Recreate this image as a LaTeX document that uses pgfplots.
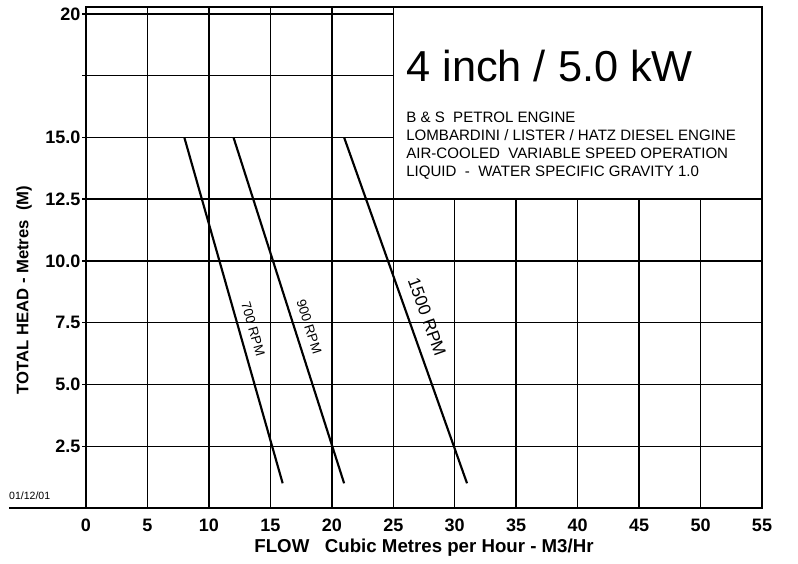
\documentclass[border=0pt]{standalone}
\usepackage{pgfplots}
\pgfplotsset{compat=1.18}
\usepackage{fontspec}
\setmainfont{Liberation Sans}

\begin{document}
\begin{tikzpicture}
% 1px of the reference = 0.75pt
\useasboundingbox (-64.5pt,-41.25pt) rectangle (534pt,381pt);
\begin{axis}[
  at={(0,0)}, anchor=south west,
  scale only axis, width=507pt, height=375.75pt,
  xmin=0, xmax=55, ymin=0, ymax=20.28,
  clip=false,
  xtick={0,5,10,15,20,25,30,35,40,45,50,55},
  xticklabels={0,5,10,15,20,25,30,35,40,45,50,55},
  ytick={2.5,5,7.5,10,12.5,15,17.5,20},
  yticklabels={2.5,5.0,7.5,10.0,12.5,15.0,,20},
  grid=major,
  major grid style={black, line width=1.1pt},
  axis line style={black, line width=1.1pt},
  tick pos=left,
  tick align=outside,
  major tick length=3pt,
  xtick style={draw=none},
  ytick style={black, line width=1.1pt},
  tick label style={font=\fontsize{13.5}{16}\selectfont\bfseries},
  yticklabel style={anchor=east, inner sep=1pt},
  xticklabel style={anchor=north, inner sep=0pt, text height=10pt, text depth=0pt, yshift=-4.5pt},
  xlabel={FLOW\ \ \ Cubic Metres per Hour - M3/Hr},
  ylabel={TOTAL HEAD - Metres\ \ (M)},
  xlabel style={font=\fontsize{14}{17}\selectfont\bfseries, at={(axis description cs:0.5,-0.08)}, anchor=center},
  ylabel style={font=\fontsize{12.5}{15}\selectfont\bfseries, at={(axis description cs:-0.0917,0.435)}, anchor=center},
]
% information box
\draw[fill=white, line width=1.1pt] (axis cs:25,12.5) rectangle (axis cs:55,20.28);
\node[anchor=base west, inner sep=0pt, font=\fontsize{32.5}{36}\selectfont] at (axis cs:26.04,17.25) {4 inch / 5.0 kW};
\node[anchor=base west, inner sep=0pt, font=\fontsize{11.3}{13}\selectfont] at (axis cs:26.04,15.59) {B \& S\ \ PETROL ENGINE};
\node[anchor=base west, inner sep=0pt, font=\fontsize{11.3}{13}\selectfont] at (axis cs:26.04,14.86) {LOMBARDINI / LISTER / HATZ DIESEL ENGINE};
\node[anchor=base west, inner sep=0pt, font=\fontsize{11.3}{13}\selectfont] at (axis cs:26.04,14.13) {AIR-COOLED\ \ VARIABLE SPEED OPERATION};
\node[anchor=base west, inner sep=0pt, font=\fontsize{11.3}{13}\selectfont] at (axis cs:26.04,13.40) {LIQUID\ \ -\ \ WATER SPECIFIC GRAVITY 1.0};

% pump curves
\addplot[black, line width=1.6pt] coordinates {(8,15) (16,1)};
\addplot[black, line width=1.6pt] coordinates {(12,15) (21,1)};
\addplot[black, line width=1.6pt] coordinates {(21,15) (31,1)};

\node[rotate=-74.1, font=\fontsize{10}{11}\selectfont] at (axis cs:13.6,7.25) {700 RPM};
\node[rotate=-72.3, font=\fontsize{10}{11}\selectfont] at (axis cs:18.15,7.33) {900 RPM};
\node[rotate=-70.4, font=\fontsize{13}{15}\selectfont] at (axis cs:27.75,7.73) {1500 RPM};

% base line running out to the left, and the date
\draw[line width=1.1pt] (axis cs:-6.27,0) -- (axis cs:0,0);
\node[anchor=base west, inner sep=0pt, font=\fontsize{7.9}{9}\selectfont] at (axis cs:-6.27,0.36) {01/12/01};
\end{axis}
\end{tikzpicture}
\end{document}
